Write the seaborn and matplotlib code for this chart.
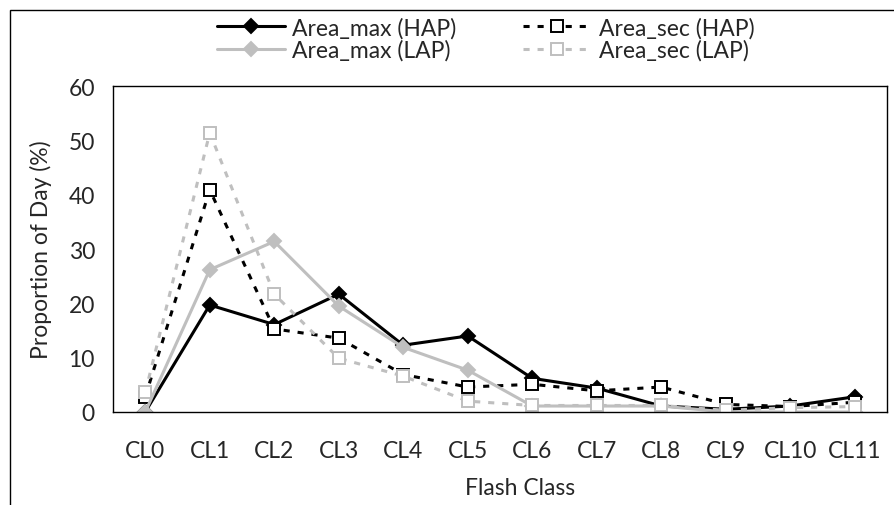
import matplotlib
matplotlib.use("Agg")
import matplotlib.pyplot as plt
import numpy as np
import pandas as pd
import seaborn as sns
from matplotlib.patches import Rectangle

classes = ['CL0', 'CL1', 'CL2', 'CL3', 'CL4', 'CL5', 'CL6', 'CL7', 'CL8', 'CL9', 'CL10', 'CL11']
max_hap = [0.0, 19.7, 16.1, 21.7, 12.3, 14.0, 6.2, 4.4, 1.1, 0.5, 1.1, 2.8]
sec_hap = [2.8, 40.9, 15.3, 13.6, 6.9, 4.6, 5.1, 3.9, 4.6, 1.4, 1.0, 1.8]
max_lap = [0.0, 26.2, 31.4, 19.5, 11.9, 7.7, 1.1, 1.1, 1.1, 0.0, 0.0, 0.0]
sec_lap = [3.6, 51.4, 21.7, 9.9, 6.6, 2.0, 1.2, 1.2, 1.2, 0.3, 0.8, 1.0]

sns.set_theme(style='white')
plt.rcParams['font.family'] = ['Lato', 'DejaVu Sans']
fs = 16.5

fig = plt.figure(figsize=(8.94, 5.06), dpi=100)
ax = fig.add_axes([0.1264, 0.1838, 0.8658, 0.644])

# outer chart border (only left/top visible in the crop)
fig.patches.append(Rectangle((10 / 894, -0.1), 1.2, 1.1 - 11 / 506,
                             transform=fig.transFigure, fill=False,
                             edgecolor='black', linewidth=1.0))

x = np.arange(len(classes))
series = [
    ('Area_max (HAP)', max_hap, 'black', 'D', '-', 'black'),
    ('Area_sec (HAP)', sec_hap, 'black', 's', '--', 'white'),
    ('Area_max (LAP)', max_lap, '#bfbfbf', 'D', '-', '#bfbfbf'),
    ('Area_sec (LAP)', sec_lap, '#bfbfbf', 's', '--', 'white'),
]
for label, vals, col, mk, ls, fc in series:
    df = pd.DataFrame({'x': x, 'y': vals})
    sns.lineplot(data=df, x='x', y='y', ax=ax, color=col, marker=mk,
                 markersize=7 if mk == 'D' else 8, markerfacecolor=fc,
                 markeredgecolor=col, markeredgewidth=1.4,
                 linewidth=2.2, label=label)
    if ls == '--':
        ax.lines[-1].set_dashes((2.0, 2.6))

ax.set_xlim(-0.5, 11.5)
ax.set_ylim(0, 60)
ax.set_yticks(range(0, 61, 10))
ax.set_xticks(x)
ax.set_xticklabels(classes)
ax.tick_params(axis='y', direction='in', length=5, width=1, color='black',
               labelsize=fs, pad=13)
ax.tick_params(axis='x', length=0, labelsize=fs, pad=20)
for sp in ax.spines.values():
    sp.set_color('black')
    sp.set_linewidth(1.0)
ax.set_xlabel('Flash Class', fontsize=fs)
ax.xaxis.set_label_coords(0.526, -0.2)
ax.set_ylabel('Proportion of Day (%)', fontsize=fs, labelpad=12)

h, l = ax.get_legend_handles_labels()
ax.get_legend().remove()
order = [0, 2, 1, 3]
fig.legend([h[i] for i in order], [l[i] for i in order], ncol=2, frameon=False,
           loc='upper center', bbox_to_anchor=(0.543, 0.965), fontsize=fs,
           handlelength=3.0, columnspacing=2.9, labelspacing=0.05,
           handletextpad=0.3, borderaxespad=0, borderpad=0)

fig.savefig('out.png', dpi=100)
